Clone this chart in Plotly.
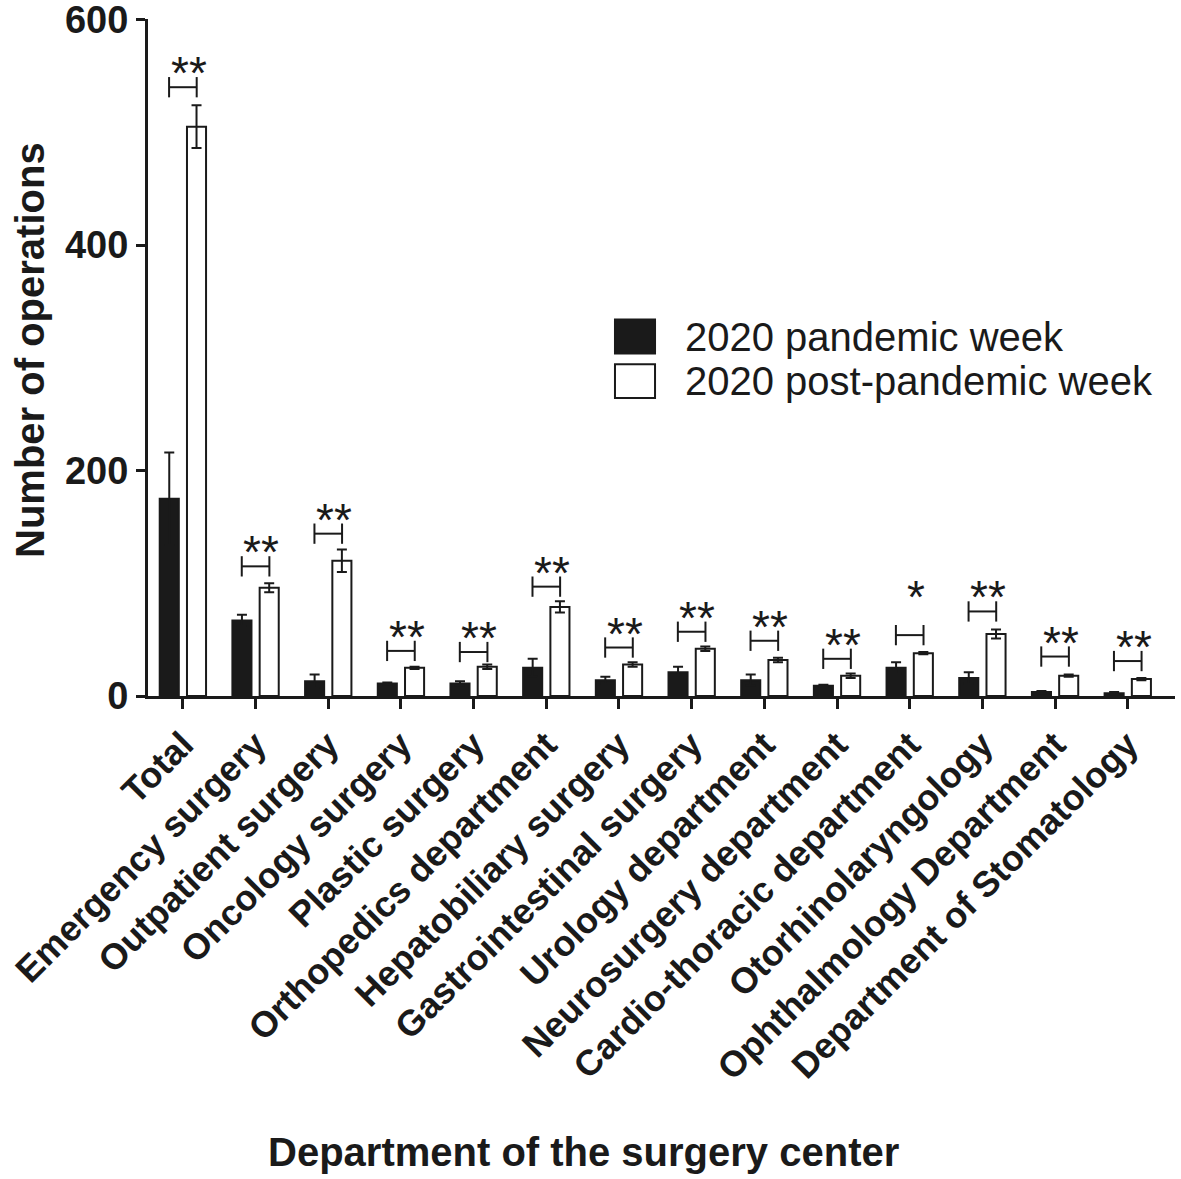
import plotly.graph_objects as go

categories = ["Total", "Emergency surgery", "Outpatient surgery", "Oncology surgery",
              "Plastic surgery", "Orthopedics department", "Hepatobiliary surgery",
              "Gastrointestinal surgery", "Urology department", "Neurosurgery department",
              "Cardio-thoracic department", "Otorhinolaryngology",
              "Ophthalmology Department", "Department of Stomatology"]
pandemic = [175, 67, 13, 11, 11, 25, 14, 21, 14, 9, 25, 16, 3.5, 2.5]
pandemic_err = [41, 5, 6, 1, 2, 8, 3, 5, 5, 1, 5, 5, 1, 1]
post_pandemic = [505, 96, 120, 25, 26, 79, 28, 42, 32, 18, 38, 55, 18, 15]
post_pandemic_err = [19, 4, 10, 1, 2, 5, 2, 2, 2, 2, 1, 4, 1, 1]
bracket_height = [540, 115, 144, 40, 39, 97, 43, 57, 49, 33, 54, 75, 35, 31]
significance = ["**", "**", "**", "**", "**", "**", "**", "**", "**", "**", "*", "**", "**", "**"]
y_ticks = [0, 200, 400, 600]
series_names = ["2020 pandemic week", "2020 post-pandemic week"]

INK = "#1a1a1a"
FONT = "Liberation Sans, Arial, sans-serif"
xs = list(range(len(categories)))
OFF = 0.19
TICK_H = 9

fig = go.Figure()
fig.add_trace(go.Bar(
    x=xs, y=pandemic, name=series_names[0],
    marker=dict(color=INK, line=dict(color=INK, width=2)),
    error_y=dict(type="data", array=pandemic_err, color=INK, thickness=2, width=5),
))
fig.add_trace(go.Bar(
    x=xs, y=post_pandemic, name=series_names[1],
    marker=dict(color="white", line=dict(color=INK, width=2)),
    error_y=dict(type="data", array=post_pandemic_err, color=INK, thickness=2, width=5),
))

# significance brackets
bx, by = [], []
for i, h in zip(xs, bracket_height):
    l, r = i - OFF, i + OFF
    bx += [l, l, None, l, r, None, r, r, None]
    by += [h - TICK_H, h + TICK_H, None, h, h, None, h - TICK_H, h + TICK_H, None]
fig.add_trace(go.Scatter(x=bx, y=by, mode="lines", line=dict(color=INK, width=2),
                         hoverinfo="skip", showlegend=False, cliponaxis=False))

for i, h, s in zip(xs, bracket_height, significance):
    fig.add_annotation(x=i + 0.08, y=h, text=s, showarrow=False, xref="x", yref="y",
                       yanchor="bottom", yshift=(-14 if s == "**" else 10),
                       font=dict(family=FONT, size=46, color=INK))

# manual legend
leg = [(0.4547, 0.556, 0.506, INK), (0.4547, 0.490, 0.440, "white")]
for (x0, y1, y0, col), name in zip(leg, series_names):
    fig.add_shape(type="rect", xref="paper", yref="paper", x0=x0, x1=x0 + 0.039,
                  y0=y0, y1=y1, fillcolor=col, line=dict(color=INK, width=2))
    fig.add_annotation(xref="paper", yref="paper", x=0.521, y=(y0 + y1) / 2,
                       text=name, showarrow=False, xanchor="left", yanchor="middle",
                       font=dict(family=FONT, size=40, color=INK))

fig.add_annotation(xref="paper", yref="paper", x=0.4245, y=-0.6735,
                   text="<b>Department of the surgery center</b>", showarrow=False,
                   xanchor="center", yanchor="middle",
                   font=dict(family=FONT, size=40, color=INK))
fig.add_annotation(xref="paper", yref="paper", x=-0.115, y=0.511, textangle=-90,
                   text="<b>Number of operations</b>", showarrow=False,
                   xanchor="center", yanchor="middle",
                   font=dict(family=FONT, size=40, color=INK))

fig.update_layout(
    width=1181, height=1179,
    margin=dict(l=148, r=6, t=19, b=483, autoexpand=False),
    paper_bgcolor="white", plot_bgcolor="white",
    barmode="group", bargap=0.25, bargroupgap=0.3,
    showlegend=False,
    font=dict(family=FONT, color=INK),
)
fig.update_xaxes(
    range=[-0.48, 13.65], tickmode="array", tickvals=xs, ticktext=categories,
    tickangle=-45, ticks="outside", ticklen=10, tickwidth=3, tickcolor=INK,
    showline=True, linewidth=3, linecolor=INK, showgrid=False, zeroline=False,
    automargin=False, ticklabeloverflow="allow",
    tickfont=dict(family=FONT, size=36, color=INK, weight="bold"),
)
fig.update_yaxes(
    range=[0, 600.5], tickmode="array", tickvals=y_ticks,
    ticks="outside", ticklen=9, tickwidth=3, tickcolor=INK,
    showline=True, linewidth=3, linecolor=INK, showgrid=False, zeroline=False,
    automargin=False, ticklabeloverflow="allow",
    tickfont=dict(family=FONT, size=38, color=INK, weight="bold"),
)

fig.write_html("out.html", config={"displayModeBar": False},
               post_script="document.body.style.margin='0px';document.body.style.overflow='hidden';")
